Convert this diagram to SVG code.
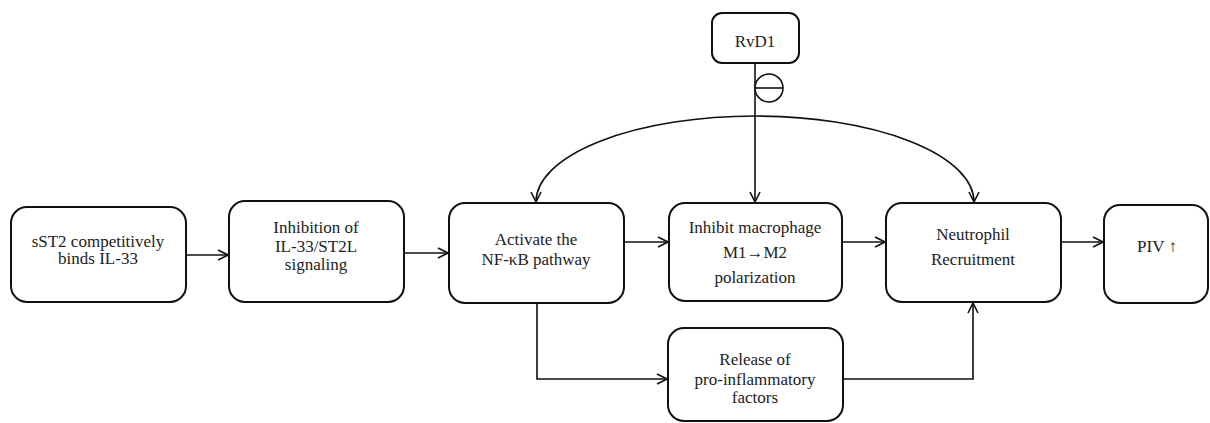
<svg xmlns="http://www.w3.org/2000/svg" width="1210" height="423" viewBox="0 0 1210 423">
<defs>
<style>
.box{fill:#fff;stroke:#111;stroke-width:2}
.t{font-family:"Liberation Serif","DejaVu Serif",serif;font-size:17px;fill:#222;text-anchor:middle}
.c{fill:none;stroke:#111;stroke-width:1.6}
</style>
<marker id="ah" viewBox="0 0 12 12" refX="11" refY="6" markerWidth="12" markerHeight="12" markerUnits="userSpaceOnUse" orient="auto">
<path d="M1,1 L11,6 L1,11" fill="none" stroke="#111" stroke-width="1.6"/>
</marker>
<marker id="ahs" viewBox="0 0 12 12" refX="11" refY="6" markerWidth="12" markerHeight="12" markerUnits="userSpaceOnUse" orient="auto-start-reverse">
<path d="M1,1 L11,6 L1,11" fill="none" stroke="#111" stroke-width="1.6"/>
</marker>
</defs>
<rect width="1210" height="423" fill="#fff"/>
<g id="connectors">
<line class="c" x1="186" y1="255" x2="228" y2="255" marker-end="url(#ah)"/>
<line class="c" x1="404" y1="253" x2="448" y2="253" marker-end="url(#ah)"/>
<line class="c" x1="624" y1="242" x2="668" y2="242" marker-end="url(#ah)"/>
<line class="c" x1="842" y1="242" x2="885" y2="242" marker-end="url(#ah)"/>
<line class="c" x1="1061" y1="242" x2="1103" y2="242" marker-end="url(#ah)"/>
<line class="c" x1="755" y1="63" x2="755" y2="202" marker-end="url(#ah)"/>
<path class="c" d="M536,202 A219,86 0 0 1 974,202" marker-start="url(#ahs)" marker-end="url(#ah)"/>
<path class="c" d="M537,303 L537,379 L667,379" marker-end="url(#ah)"/>
<path class="c" d="M843,379 L973,379 L973,303" marker-end="url(#ah)"/>
<circle cx="769" cy="88" r="14" fill="#fff" stroke="#111" stroke-width="1.6"/>
<line class="c" x1="755" y1="88" x2="783" y2="88"/>
</g>
<g id="n1"><rect class="box" x="11" y="207" width="175" height="95" rx="16"/>
<text class="t" x="98" y="247">sST2 competitively</text><text class="t" x="98" y="264">binds IL-33</text></g>
<g id="n2"><rect class="box" x="229" y="201" width="175" height="101" rx="16"/>
<text class="t" x="316" y="233">Inhibition of</text><text class="t" x="316" y="252">IL-33/ST2L</text><text class="t" x="316" y="270">signaling</text></g>
<g id="n3"><rect class="box" x="449" y="203" width="175" height="100" rx="16"/>
<text class="t" x="536" y="245">Activate the</text><text class="t" x="536" y="265">NF-κB pathway</text></g>
<g id="n4"><rect class="box" x="669" y="203" width="173" height="98" rx="16"/>
<text class="t" x="755" y="233">Inhibit macrophage</text><text class="t" x="755" y="258">M1→M2</text><text class="t" x="755" y="283">polarization</text></g>
<g id="n5"><rect class="box" x="886" y="203" width="175" height="99" rx="16"/>
<text class="t" x="973" y="240">Neutrophil</text><text class="t" x="973" y="265">Recruitment</text></g>
<g id="n6"><rect class="box" x="1104" y="205" width="104" height="98" rx="16"/>
<text class="t" x="1157" y="252">PIV ↑</text></g>
<g id="n7"><rect class="box" x="712" y="13" width="87" height="50" rx="10"/>
<text class="t" x="755" y="47">RvD1</text></g>
<g id="n8"><rect class="box" x="668" y="328" width="175" height="93" rx="16"/>
<text class="t" x="755" y="365">Release of</text><text class="t" x="755" y="385">pro-inflammatory</text><text class="t" x="755" y="403">factors</text></g>
</svg>
